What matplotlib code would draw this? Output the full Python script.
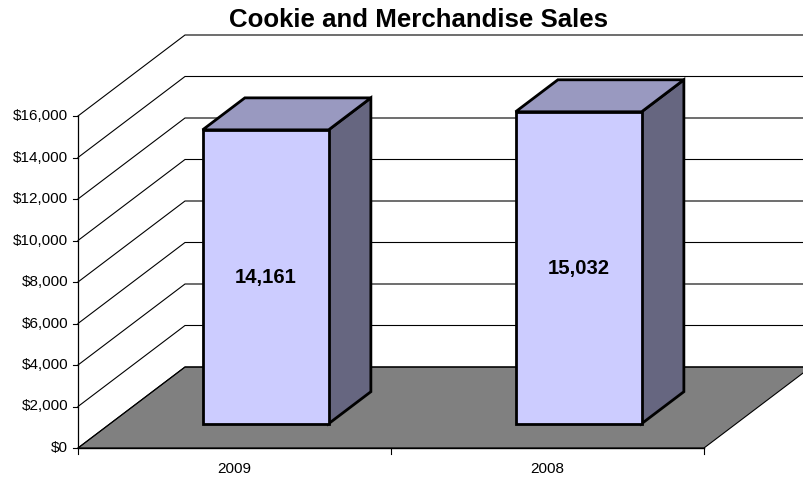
import matplotlib
matplotlib.use("Agg")
import matplotlib.pyplot as plt
from matplotlib.patches import Polygon

plt.rcParams['font.family'] = ['Liberation Sans', 'DejaVu Sans']

title = "Cookie and Merchandise Sales"
categories = ["2009", "2008"]
values = [14161, 15032]
value_labels = ["14,161", "15,032"]
axis_ticks = [0, 2000, 4000, 6000, 8000, 10000, 12000, 14000, 16000]
tick_labels = ["$0", "$2,000", "$4,000", "$6,000", "$8,000", "$10,000", "$12,000", "$14,000", "$16,000"]

W, H = 804, 479
X0, X1 = 78.0, 704.0
Y0 = 448.0
PX_PER_UNIT = 332.0 / 16000
DX, DY = 107.0, 81.0
BAR_W = 126.0
BAR_SHIFT = -1.0
D_NEAR, D_FAR = 0.30, 0.695


def proj(cat, val, depth):
    """cat in category units (0..n), val in dollars, depth 0..1 -> pixels."""
    x = X0 + cat * (X1 - X0) / len(categories) + depth * DX
    y = Y0 - val * PX_PER_UNIT - depth * DY
    return x, y


fig = plt.figure(figsize=(W / 100, H / 100), dpi=100)
ax = fig.add_axes([0, 0, 1, 1])
ax.set_xlim(0, W)
ax.set_ylim(H, 0)
ax.axis("off")

n = len(categories)
top = axis_ticks[-1]
# floor
ax.add_patch(Polygon([proj(0, 0, 0), proj(n, 0, 0), proj(n, 0, 1), proj(0, 0, 1)],
                     closed=True, fc="#808080", ec="black", lw=0.8, zorder=1))
# gridlines: side wall and back wall
for t in axis_ticks:
    p0, p1, p2 = proj(0, t, 0), proj(0, t, 1), proj(n, t, 1)
    ax.plot([p0[0], p1[0], p2[0]], [p0[1], p1[1], p2[1]], color="black", lw=0.8, zorder=2,
            solid_joinstyle="miter")
# value axis and ticks
a, b = proj(0, 0, 0), proj(0, top, 0)
ax.plot([a[0], b[0]], [a[1], b[1]], color="black", lw=0.9, zorder=3)
for t, lab in zip(axis_ticks, tick_labels):
    x, y = proj(0, t, 0)
    ax.plot([x - 5, x], [y, y], color="black", lw=0.8, zorder=3)
    ax.text(x - 10, y, lab, ha="right", va="center", fontsize=11, color="black")
# category axis
a, b = proj(0, 0, 0), proj(n, 0, 0)
ax.plot([a[0], b[0]], [a[1], b[1]], color="black", lw=1.0, zorder=3)
for i in range(n + 1):
    x, y = proj(i, 0, 0)
    ax.plot([x, x], [y, y + 6], color="black", lw=0.8, zorder=3)
for i, c in enumerate(categories):
    x, y = proj(i + 0.5, 0, 0)
    ax.text(x, y + 21, c, ha="center", va="center", fontsize=11, color="black")

# bars
unit = (X1 - X0) / n
for i, (v, lab) in enumerate(zip(values, value_labels)):
    cl = i + 0.5 + (BAR_SHIFT - BAR_W / 2) / unit
    cr = i + 0.5 + (BAR_SHIFT + BAR_W / 2) / unit
    lw = 2.0
    fl0 = proj(cl, 0, D_NEAR); fr0 = proj(cr, 0, D_NEAR)
    fl1 = proj(cl, v, D_NEAR); fr1 = proj(cr, v, D_NEAR)
    br0 = proj(cr, 0, D_FAR); br1 = proj(cr, v, D_FAR); bl1 = proj(cl, v, D_FAR)
    ax.add_patch(Polygon([fr0, br0, br1, fr1], closed=True, fc="#666680", ec="black", lw=lw, zorder=4, joinstyle="miter"))
    ax.add_patch(Polygon([fl1, fr1, br1, bl1], closed=True, fc="#9999C0", ec="black", lw=lw, zorder=4, joinstyle="miter"))
    ax.add_patch(Polygon([fl0, fr0, fr1, fl1], closed=True, fc="#CCCCFF", ec="black", lw=lw, zorder=5, joinstyle="miter"))
    ax.text((fl0[0] + fr0[0]) / 2, (fl0[1] + fl1[1]) / 2 + 1, lab, ha="center", va="center",
            fontsize=14.6, fontweight="bold", color="black", zorder=6)

ax.text(419, 20, title, ha="center", va="center", fontsize=18.6, fontweight="bold", color="black")
fig.savefig("out.png", dpi=100, facecolor="white")
